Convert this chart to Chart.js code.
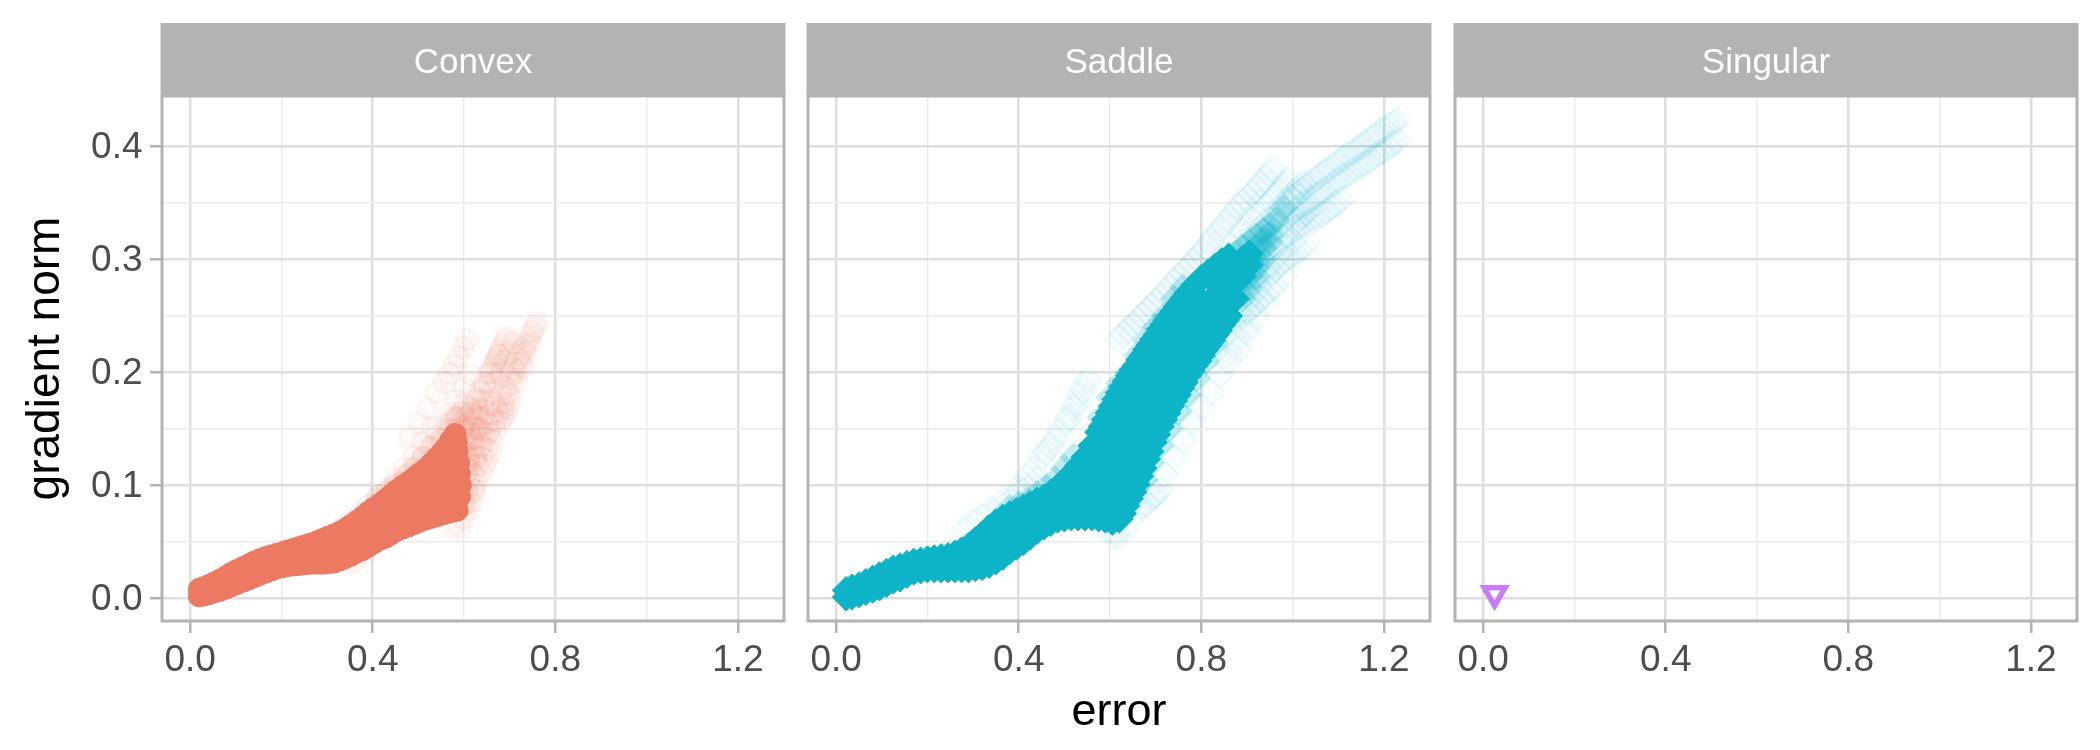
<!DOCTYPE html>
<html>
<head>
<meta charset="utf-8">
<script src="https://cdn.jsdelivr.net/npm/chart.js@4"></script>
<style>
html,body{margin:0;padding:0;background:#fff;width:2100px;height:750px;overflow:hidden}
canvas{position:absolute;top:0}
</style>
</head>
<body>
<canvas id="convex" width="790" height="750" style="left:0"></canvas>
<canvas id="saddle" width="640" height="750" style="left:796px"></canvas>
<canvas id="singular" width="640" height="750" style="left:1443px"></canvas>
<script>
const panelNames = ['Convex','Saddle','Singular'];
const errorTicks = [0,0.2,0.4,0.6,0.8,1.0,1.2];
const errorTickLabels = ['0.0','','0.4','','0.8','','1.2'];
const normTicks = [0,0.05,0.1,0.15,0.2,0.25,0.3,0.35,0.4];
const normTickLabels = ['0.0','','0.1','','0.2','','0.3','','0.4'];

const convexCore = [
[.02,.002],[.03,.003],[.04,.004],[.052,.0055],[.065,.007],[.078,.009],[.09,.011],[.102,.013],[.115,.015],[.128,.017],[.14,.019],[.152,.021],[.165,.023],[.178,.025],[.19,.027],[.203,.028],[.215,.029],[.228,.0295],[.24,.03],[.252,.0305],[.265,.031],[.278,.031],[.29,.031],[.302,.0315],[.315,.032],[.328,.034],[.34,.036],[.352,.038],[.365,.041],[.378,.043],[.39,.046],[.402,.049],[.415,.052],[.428,.054],[.44,.057],[.452,.06],[.465,.062],[.478,.064],[.49,.066],[.502,.068],[.515,.07],[.528,.0715],[.54,.073],[.552,.0745],[.565,.076],[.575,.077],[.585,.078],
[.02,.008],[.03,.0095],[.04,.011],[.052,.0135],[.065,.016],[.078,.019],[.09,.022],[.102,.0245],[.115,.027],[.128,.0295],[.14,.032],[.152,.034],[.165,.036],[.178,.0375],[.19,.039],[.203,.0405],[.215,.042],[.228,.0435],[.24,.045],[.252,.0465],[.265,.048],[.278,.05],[.29,.052],[.302,.054],[.315,.056],[.328,.0585],[.34,.061],[.352,.0645],[.365,.068],[.378,.072],[.39,.076],[.402,.0795],[.415,.083],[.428,.087],[.44,.091],[.452,.095],[.465,.099],[.478,.1025],[.49,.106],[.502,.11],[.515,.114],[.528,.119],[.54,.124],[.55,.128],[.56,.133],[.57,.139],[.58,.145],
[.21,.035],[.25,.038],[.3,.041],[.33,.045],[.36,.052],[.39,.058],[.42,.065],[.42,.074],[.45,.07],[.45,.082],[.48,.075],[.48,.088],[.48,.098],[.51,.08],[.51,.092],[.51,.103],[.54,.084],[.54,.096],[.54,.108],[.57,.086],[.57,.098],[.57,.11],[.57,.122],
[.59,.09],[.592,.1],[.59,.11],[.588,.12],[.585,.13],[.583,.138]
];
const convexMid = [
[.6,.15],[.615,.158],[.63,.168],[.605,.13],[.62,.14],[.635,.15],[.61,.12],[.595,.165],[.58,.16],[.565,.15],[.55,.14],[.605,.095],[.6,.082],[.53,.135],[.51,.125],[.49,.115],[.47,.108],[.45,.101],[.43,.094],[.41,.088]
];
const convexTrail = [
[.606,.229],[.598,.222],[.588,.214],[.578,.206],[.567,.199],[.557,.191],[.54,.182],[.52,.168],[.50,.155],[.48,.143],
[.76,.244],[.755,.24],[.75,.236],[.745,.232],[.74,.228],[.735,.224],[.73,.22],[.725,.216],[.72,.212],[.715,.208],[.71,.203],[.705,.199],[.70,.195],[.69,.187],[.68,.179],[.67,.17],[.66,.163],[.65,.155],[.64,.148],[.63,.14],[.62,.132],[.61,.125],[.60,.118],
[.694,.231],[.69,.228],[.685,.224],[.68,.22],[.675,.216],[.67,.212],[.665,.207],[.66,.203],[.655,.199],[.645,.191],[.635,.183],[.625,.175],[.615,.168],[.605,.16],[.595,.152],[.585,.145],
[.70,.172],[.695,.168],[.69,.163],[.685,.16],[.68,.156],[.67,.148],[.66,.14],[.65,.132],[.64,.125],[.63,.118],[.62,.11],[.61,.103],
[.615,.198],[.60,.186],[.585,.175],[.57,.163],[.555,.153],[.54,.143],[.525,.133],[.51,.125],[.495,.117],[.48,.11],[.465,.103],[.45,.097],[.435,.091],[.42,.085],[.405,.079],[.39,.073],[.375,.067],
[.675,.215],[.66,.2],[.645,.188],[.63,.177],[.615,.164],[.60,.153],
[.73,.205],[.715,.192],[.70,.18],[.685,.168],[.67,.157],[.655,.146],[.64,.135],[.625,.124],[.61,.114],
[.625,.095],[.615,.085],[.61,.078],[.60,.07],[.59,.063],[.576,.063],
[.655,.17],[.64,.16],[.625,.15],[.61,.14],[.595,.13],
[.53,.151],[.51,.138],[.49,.125],[.47,.115],[.45,.105],[.43,.097],[.41,.09],[.39,.082],[.37,.075],[.35,.068],[.33,.062],
[.36,.033],[.38,.04],[.345,.03],
[.745,.225],[.735,.217],[.725,.208],[.715,.2],[.705,.19],[.695,.182],[.685,.173],[.675,.165],[.665,.156],[.655,.149],[.645,.142],[.635,.133],[.625,.126],[.615,.118],[.605,.11],
[.71,.226],[.70,.218],[.69,.21],[.68,.2],[.67,.192],[.66,.183],[.65,.175],[.64,.167],[.63,.16],[.62,.152],[.61,.145],[.60,.137],
[.67,.21],[.655,.19],[.64,.175],[.625,.162],[.61,.15],[.595,.14],[.58,.15],[.57,.155],[.60,.172],[.585,.16],
[.66,.13],[.645,.118],[.63,.105],[.62,.096],[.64,.112],[.65,.122],[.625,.1],[.61,.092],[.605,.085]
];

const saddleCore = [
[.022,.007],[.035,.009],[.05,.011],[.065,.014],[.08,.017],[.095,.02],[.11,.023],[.125,.026],[.14,.028],[.155,.03],[.17,.032],[.185,.033],[.20,.034],[.215,.035],[.23,.036],[.245,.037],[.26,.039],[.275,.042],[.29,.046],[.305,.051],[.32,.056],[.335,.062],[.35,.067],[.365,.071],[.38,.074],[.395,.077],[.41,.08],[.425,.083],[.44,.086],[.455,.089],[.47,.093],[.485,.098],[.50,.104],[.515,.11],[.53,.117],[.545,.125],[.56,.135],[.575,.147],[.59,.158],[.605,.17],[.62,.182],[.635,.192],[.65,.202],[.665,.211],[.68,.22],[.695,.229],[.71,.238],[.725,.246],[.74,.254],[.755,.262],[.77,.27],[.785,.277],[.80,.283],[.815,.288],[.83,.293],[.845,.298],[.86,.302],
[.5825,.152],[.5975,.164],[.6125,.176],[.6275,.187],[.6425,.197],[.6575,.206],[.6725,.215],[.6875,.224],[.7025,.233],[.7175,.242],[.7325,.25],[.7475,.258],[.7625,.266],[.7775,.273],
[.022,.001],[.035,.002],[.05,.004],[.065,.006],[.08,.008],[.095,.01],[.11,.013],[.125,.016],[.14,.018],[.155,.021],[.17,.024],[.185,.025],[.20,.026],[.215,.026],[.23,.026],[.245,.026],[.26,.026],[.275,.026],[.29,.026],[.305,.027],[.32,.028],[.335,.03],[.35,.033],[.365,.037],[.38,.042],[.395,.046],[.41,.05],[.425,.055],[.44,.06],[.455,.064],[.47,.067],[.485,.07],[.50,.071],[.515,.072],[.53,.072],[.545,.072],[.56,.072],[.575,.071],[.59,.07],[.605,.068],[.62,.07],[.635,.082],[.65,.094],[.665,.108],[.68,.123],[.695,.138],[.71,.152],[.725,.164],[.74,.175],[.755,.186],[.77,.197],[.785,.206],[.80,.215],[.815,.224],[.83,.233],[.845,.242],[.86,.25],[.875,.265],
[.6275,.075],[.6425,.088],[.6575,.101],[.6725,.115],[.6875,.13],[.7025,.145],[.7175,.158],[.7325,.17],[.7475,.18],[.7625,.191],[.7775,.201],[.7925,.21],[.8075,.22],[.8225,.228],[.8375,.237],[.8525,.246],
[.29,.038],[.32,.04],[.35,.045],[.35,.06],[.38,.055],[.38,.07],[.41,.062],[.41,.075],[.44,.07],[.44,.082],[.47,.078],[.47,.09],
[.50,.082],[.50,.094],[.53,.084],[.53,.096],[.53,.108],
[.56,.085],[.56,.098],[.56,.11],[.56,.122],[.59,.085],[.59,.098],[.59,.11],[.59,.122],[.59,.135],[.59,.148],
[.62,.085],[.62,.098],[.62,.11],[.62,.122],[.62,.135],[.62,.148],[.62,.162],[.62,.175],
[.65,.108],[.65,.12],[.65,.132],[.65,.145],[.65,.158],[.65,.172],[.65,.186],
[.68,.137],[.68,.15],[.68,.163],[.68,.176],[.68,.19],[.68,.204],
[.71,.164],[.71,.176],[.71,.188],[.71,.2],[.71,.212],[.71,.224],
[.74,.187],[.74,.199],[.74,.211],[.74,.223],[.74,.235],
[.77,.208],[.77,.22],[.77,.232],[.77,.244],[.77,.256],
[.80,.226],[.80,.238],[.80,.25],[.80,.262],
[.83,.244],[.83,.256],[.83,.268],[.83,.28],
[.86,.262],[.86,.274],[.86,.286],
[.875,.28],[.875,.295],[.89,.285],[.89,.30],[.905,.305],[.905,.295]
];
const saddleMid = [
[.875,.305],[.89,.31],[.905,.315],[.92,.32],[.935,.325],[.95,.33],[.89,.275],[.905,.285],[.92,.30],[.935,.31],[.95,.315],[.875,.275],[.89,.265],[.905,.275],[.92,.285],[.965,.335],[.98,.345],[.92,.31],[.935,.318],[.95,.322],[.905,.3],[.92,.292],[.935,.3],
[.83,.225],[.81,.21],[.79,.195],[.77,.18],[.75,.165],[.73,.15],[.71,.135],[.69,.12],[.675,.105],
[.76,.275],[.74,.265],[.72,.25],[.70,.24],[.68,.228],[.66,.215],[.64,.2],[.62,.19],[.60,.178],[.58,.16],
[.52,.125],[.50,.115],[.48,.105],[.46,.098],[.44,.092],[.42,.087],[.40,.083],[.38,.08]
];
const saddleTrail = [
[1.229,.423],[1.22,.42],[1.21,.418],[1.2,.415],[1.19,.412],[1.18,.409],[1.17,.406],[1.16,.403],[1.15,.40],[1.14,.397],[1.13,.395],[1.12,.392],[1.11,.389],[1.1,.386],[1.09,.383],[1.08,.38],[1.07,.377],[1.06,.374],[1.05,.371],[1.04,.368],[1.03,.365],[1.02,.361],[1.01,.358],[1.0,.354],[.99,.35],[.97,.343],[.95,.336],[.93,.327],[.91,.318],[.89,.31],[.87,.30],
[1.229,.405],[1.22,.402],[1.21,.399],[1.2,.396],[1.19,.394],[1.18,.391],[1.17,.388],[1.16,.385],[1.15,.383],[1.14,.38],[1.13,.378],[1.12,.375],[1.11,.373],[1.1,.37],[1.09,.367],[1.08,.364],[1.07,.361],[1.06,.358],[1.05,.356],[1.04,.353],[1.03,.35],[1.02,.348],[1.01,.345],[1.0,.342],[.99,.338],[.97,.33],[.95,.32],[.93,.312],[.91,.303],[.89,.295],
[1.104,.352],[1.095,.349],[1.085,.346],[1.075,.343],[1.065,.34],[1.055,.337],[1.045,.335],[1.035,.333],[1.025,.331],[1.015,.329],[1.005,.327],[.985,.322],[.965,.316],[.945,.305],[.925,.295],[.905,.285],[.885,.275],
[1.024,.311],[1.015,.308],[1.005,.305],[.995,.303],[.985,.30],[.975,.297],[.965,.293],[.955,.289],[.945,.285],[.925,.275],[.905,.265],[.885,.255],[.865,.245],
[.95,.273],[.94,.269],[.93,.265],[.92,.261],[.91,.257],[.90,.254],[.89,.25],[.87,.243],[.85,.232],[.83,.22],
[.957,.379],[.95,.376],[.94,.372],[.93,.367],[.92,.362],[.91,.358],[.90,.354],[.89,.35],[.88,.346],[.87,.341],[.86,.336],[.85,.331],[.84,.326],[.83,.321],[.82,.316],[.81,.311],[.80,.306],[.79,.301],[.78,.297],[.77,.292],[.76,.288],[.75,.284],[.74,.28],[.73,.275],[.72,.271],[.71,.266],[.70,.262],[.69,.258],[.68,.254],[.67,.25],[.66,.246],[.65,.242],[.64,.238],[.63,.234],[.62,.23],
[.987,.37],[.98,.366],[.97,.36],[.96,.355],[.95,.35],[.93,.338],[.91,.326],[.89,.315],[.87,.303],[.85,.292],[.83,.283],[.81,.273],
[1.024,.367],[1.015,.364],[1.005,.36],[.995,.355],[.985,.35],[.965,.338],[.945,.327],[.925,.316],[.905,.304],[.885,.292],[.865,.28],
[1.04,.345],[1.03,.342],[1.02,.338],[1.01,.334],[1.0,.33],[.98,.32],[.96,.31],[.94,.298],[.92,.285],[.90,.273],[.88,.262],
[.93,.35],[.91,.337],[.89,.325],[.87,.31],[.85,.298],
[.55,.193],[.54,.185],[.535,.18],[.525,.172],[.52,.168],[.51,.16],[.505,.157],[.49,.148],[.48,.141],[.47,.135],[.46,.13],[.45,.125],[.435,.115],[.418,.107],[.40,.098],
[.71,.096],[.70,.092],[.695,.09],[.68,.084],[.665,.08],[.65,.085],[.66,.092],[.673,.081],[.62,.055],[.635,.063],[.61,.056],[.595,.06],
[.44,.105],[.42,.097],[.40,.093],[.38,.087],[.36,.083],[.34,.078],[.32,.072],[.30,.066],[.28,.06],
[.90,.235],[.88,.22],[.86,.21],[.84,.198],[.82,.182],[.80,.17],[.78,.156],[.76,.14],[.74,.125],[.72,.11],
[.98,.285],[.96,.275],[.94,.262],[.92,.25],[.90,.24],[.88,.23],[.86,.218],
[1.0,.316],[.98,.31],[.96,.3],[.94,.29],[.92,.28],[.90,.27],
[.92,.32],[.90,.31],[.88,.30],[.86,.292],
[.90,.30],[.92,.305],[.94,.315],[.96,.325],[.98,.335],[.88,.285],[.90,.288],[.92,.295],[.94,.307],[.96,.32]
];
const singularPoints = [[.025,.004]];

const INK_CONVEX = '#EC7A62', INK_SADDLE = '#0DB4C8', INK_SINGULAR = '#C77CFF';
const GREY70 = '#B3B3B3';
const rgba = (hex,a) => { const n=parseInt(hex.slice(1),16); return `rgba(${n>>16},${(n>>8)&255},${n&255},${a})`; };
const FONT = '"Liberation Sans", Arial, Helvetica, sans-serif';

const frame = {
  id:'frame',
  beforeDraw(chart){
    const t = chart.titleBlock, c = chart.ctx;
    c.save(); c.fillStyle = GREY70;
    c.fillRect(chart.chartArea.left-1.5, t.top, chart.chartArea.width+3, t.bottom-t.top);
    c.restore();
  },
  afterDraw(chart){
    const a = chart.chartArea, c = chart.ctx;
    c.save(); c.strokeStyle = GREY70; c.lineWidth = 3;
    c.strokeRect(a.left, a.top, a.width, a.height);
    c.restore();
  }
};

function near(a,b){ return Math.abs(a-b)<1e-6; }
function labelOf(list,labels,v){ const i=list.findIndex(t=>near(t,v)); return i<0?'':labels[i]; }

function panel(id,name,datasets,o){
  return new Chart(document.getElementById(id),{
    type:'scatter',
    data:{datasets},
    plugins:[frame],
    options:{
      responsive:false, animation:false, events:[],
      layout:{autoPadding:false,padding:{top:23,right:6,bottom:0,left:0}},
      plugins:{
        legend:{display:false}, tooltip:{enabled:false},
        title:{display:true,text:name,color:'#FFFFFF',fullSize:false,
               font:{family:FONT,size:35,weight:'normal',lineHeight:1.2},padding:{top:19,bottom:12}}
      },
      scales:{
        x:{type:'linear',min:-0.0617,max:1.301,
          afterBuildTicks(s){ s.ticks = errorTicks.map(v=>({value:v})); },
          afterFit(s){ s.height = 129; s.paddingLeft = 0; s.paddingRight = 0; },
          border:{display:false},
          grid:{
            color:c=>labelOf(errorTicks,errorTickLabels,c.tick.value)?'#DEDEDE':'#EBEBEB',
            lineWidth:c=>labelOf(errorTicks,errorTickLabels,c.tick.value)?2.5:1.5,
            tickColor:c=>labelOf(errorTicks,errorTickLabels,c.tick.value)?GREY70:'rgba(0,0,0,0)',
            tickWidth:2.5,tickLength:12
          },
          ticks:{autoSkip:false,maxRotation:0,minRotation:0,padding:6,color:'#4D4D4D',
            font:{family:FONT,size:37},
            callback:v=>labelOf(errorTicks,errorTickLabels,v)},
          title:{display:!!o.xTitle,text:o.xTitle||'',color:'#000',font:{family:FONT,size:45},padding:{top:0,bottom:10}}
        },
        y:{type:'linear',min:-0.0201,max:0.4445,
          afterBuildTicks(s){ s.ticks = normTicks.map(v=>({value:v})); },
          afterFit(s){ s.width = o.yWidth; s.paddingTop = 0; s.paddingBottom = 0; },
          border:{display:false},
          grid:{
            color:c=>labelOf(normTicks,normTickLabels,c.tick.value)?'#DEDEDE':'#EBEBEB',
            lineWidth:c=>labelOf(normTicks,normTickLabels,c.tick.value)?2.5:1.5,
            drawTicks:!!o.yAxis,
            tickColor:c=>labelOf(normTicks,normTickLabels,c.tick.value)?GREY70:'rgba(0,0,0,0)',
            tickWidth:2.5,tickLength:12
          },
          ticks:{display:!!o.yAxis,autoSkip:false,padding:7.5,labelOffset:2,color:'#4D4D4D',
            font:{family:FONT,size:37},
            callback:v=>labelOf(normTicks,normTickLabels,v)},
          title:{display:!!o.yTitle,text:o.yTitle||'',color:'#000',font:{family:FONT,size:46},padding:{top:19,bottom:0}}
        }
      }
    }
  });
}

panel('convex',panelNames[0],[
  {data:convexCore,pointStyle:'circle',pointRadius:11,backgroundColor:INK_CONVEX,borderColor:INK_CONVEX,pointBorderWidth:1,order:1},
  {data:convexMid,pointStyle:'circle',pointRadius:11,backgroundColor:rgba(INK_CONVEX,.13),borderColor:rgba(INK_CONVEX,.08),pointBorderWidth:1,order:2},
  {data:convexTrail,pointStyle:'circle',pointRadius:10.5,backgroundColor:rgba(INK_CONVEX,.035),borderColor:rgba(INK_CONVEX,.06),pointBorderWidth:2.5,order:3}
],{yWidth:162,yAxis:true,yTitle:'gradient norm'});

panel('saddle',panelNames[1],[
  {data:saddleCore,pointStyle:'rectRot',pointRadius:14,backgroundColor:INK_SADDLE,borderColor:INK_SADDLE,pointBorderWidth:1,order:1},
  {data:saddleMid,pointStyle:'rectRot',pointRadius:14,backgroundColor:rgba(INK_SADDLE,.25),borderColor:rgba(INK_SADDLE,.12),pointBorderWidth:1,order:2},
  {data:saddleTrail,pointStyle:'rectRot',pointRadius:14,backgroundColor:rgba(INK_SADDLE,.025),borderColor:rgba(INK_SADDLE,.06),pointBorderWidth:2,order:3}
],{yWidth:12,xTitle:'error'});

panel('singular',panelNames[2],[
  {data:singularPoints,pointStyle:'triangle',rotation:180,pointRadius:12,backgroundColor:'rgba(0,0,0,0)',borderColor:INK_SINGULAR,pointBorderWidth:5.5}
],{yWidth:12});
</script>
</body>
</html>
